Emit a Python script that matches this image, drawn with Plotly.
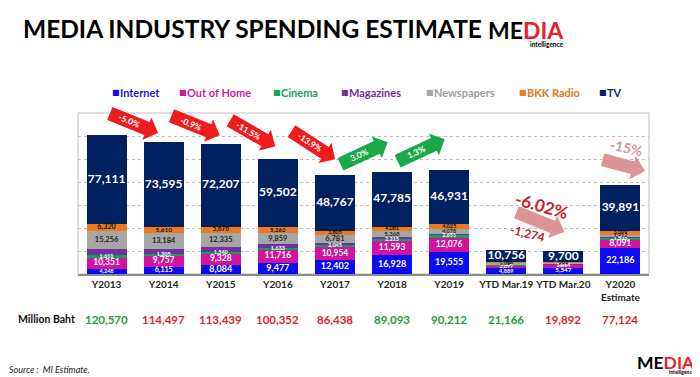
import plotly.graph_objects as go
import math

# ---------------- data ----------------
categories = ["Y2013", "Y2014", "Y2015", "Y2016", "Y2017", "Y2018", "Y2019",
              "YTD Mar.19", "YTD Mar.20", "Y2020 Estimate"]
tick_labels = ["Y2013", "Y2014", "Y2015", "Y2016", "Y2017", "Y2018", "Y2019",
               "YTD Mar.19", "YTD Mar.20", "Y2020<br>Estimate"]

internet   = [4248, 6115, 8084, 9477, 12402, 16928, 19555, 4889, 5547, 22186]
out_of_home = [10351, 9757, 9328, 11716, 10954, 11593, 12076, 2897, 2814, 8091]
cinema     = [1611, 1305, 1540, 1633, 2045, 2215, 2651, 563, 320, 1535]
magazines  = [5673, 4931, 4269, 2903, 1684, 1123, 896, 219, 130, 410]
newspapers = [15256, 13184, 12335, 9859, 6781, 5368, 4078, 1064, 774, 1912]
bkk_radio  = [6320, 5610, 5676, 5262, 3805, 4081, 4025, 778, 607, 3099]
tv         = [77111, 73595, 72207, 59502, 48767, 47785, 46931, 10756, 9700, 39891]
totals     = [120570, 114497, 113439, 100352, 86438, 89093, 90212, 21166, 19892, 77124]
total_up   = [True, False, False, False, False, True, True, True, False, False]

growth_labels = ["-5.0%", "-0.9%", "-11.5%", "-13.9%", "3.0%", "1.3%"]

# ---------------- style ----------------
FONT = "Lato, 'DejaVu Sans', sans-serif"
OFF = 8                      # page body margin of the browser
W, H = 700 - OFF, 377 - OFF  # figure size
# plot area in window pixels
PX0, PY0, PW, PH = 78, 113, 571, 161
ML, MT = PX0 - OFF, PY0 - OFF
MR = W - ML - PW
MB = H - MT - PH
YMAX = 140000
N = len(categories)

series = [
    ("Internet",    internet,    "#0c0cf0", "#1a1ad0", "white", 9.0),
    ("Out of Home", out_of_home, "#d3139d", "#d01c9c", "white", 8.5),
    ("Cinema",      cinema,      "#12a052", "#18a058", "white", 6.5),
    ("Magazines",   magazines,   "#7030a0", "#7030a0", None,    0),
    ("Newspapers",  newspapers,  "#a6a6a6", "#a0a0a0", "#262626", 7.5),
    ("BKK Radio",   bkk_radio,   "#ec7a22", "#e37526", "#111111", 7.5),
    ("TV",          tv,          "#002060", "#1f2a6e", "white", 12),
]

def px_x(i):
    return PX0 + (i + 0.5) * PW / N

def px_y(v):
    return PY0 + PH * (1 - v / YMAX)

def to_paper(px, py):
    return (px - PX0) / PW, (PY0 + PH - py) / PH

fig = go.Figure()

cum = [0] * N
for name, vals, color, tcolor, lcolor, fsize in series:
    fig.add_trace(go.Bar(x=categories, y=vals, name=name, marker_color=color,
                         marker_line_width=0, width=0.7, showlegend=False))
    mids = [c + v / 2 for c, v in zip(cum, vals)]
    if lcolor:
        sizes = []
        for v in vals:
            seg = v / YMAX * PH
            sizes.append(min(fsize, max(5.5, seg * 1.0)) if name != "TV" else fsize)
        fig.add_trace(go.Scatter(
            x=categories, y=mids, mode="text",
            text=[f"{v:,}" for v in vals],
            textfont=dict(family=FONT, size=sizes, color=lcolor, weight="bold"),
            showlegend=False, hoverinfo="skip", cliponaxis=False))
    cum = [c + v for c, v in zip(cum, vals)]

shapes = []
annotations = []

# plot border
shapes.append(dict(type="rect", xref="paper", yref="paper", x0=0, x1=1, y0=0, y1=1,
                   line=dict(color="#bfbfbf", width=1), layer="below"))

# block arrows
def arrow(cx, cy, L, t, hw, hl, ang, color):
    a = math.radians(ang)
    ca, sa = math.cos(a), math.sin(a)
    pts_local = [(-L / 2, -t / 2), (L / 2 - hl, -t / 2), (L / 2 - hl, -hw / 2),
                 (L / 2, 0), (L / 2 - hl, hw / 2), (L / 2 - hl, t / 2), (-L / 2, t / 2)]
    pts = []
    for lx, ly in pts_local:
        X = cx + lx * ca - ly * sa
        Y = cy + lx * sa + ly * ca
        pts.append(to_paper(X, Y))
    path = "M " + " L ".join(f"{x:.5f},{y:.5f}" for x, y in pts) + " Z"
    shapes.append(dict(type="path", xref="paper", yref="paper", path=path,
                       fillcolor=color, line=dict(width=0)))

def text_at(px, py, txt, size, color, ang=0, xanchor="center", family=FONT):
    xp, yp = to_paper(px, py)
    annotations.append(dict(xref="paper", yref="paper", x=xp, y=yp, text=txt,
                            showarrow=False, textangle=ang, xanchor=xanchor,
                            yanchor="middle", borderpad=0,
                            font=dict(family=family, size=size, color=color)))

# growth arrows (category position, value, angle, colour)
growth_arrows = [
    (0.48, 131000, 22, "#ee1c1c"),
    (1.56, 129200, 22, "#ee1c1c"),
    (2.56, 122400, 30, "#ee1c1c"),
    (3.62, 112000, 33, "#ee1c1c"),
    (4.51, 105000, -25, "#1aa84a"),
    (5.51, 107600, -25, "#1aa84a"),
]
for (ci, v, ang, col), lab in zip(growth_arrows, growth_labels):
    cx, cy = px_x(ci), px_y(v)
    arrow(cx, cy, 52, 14, 24, 12, ang, col)
    a = math.radians(ang)
    tx, ty = cx - 5 * math.cos(a), cy - 5 * math.sin(a)
    text_at(tx, ty, f"<b>{lab}</b>", 8.5, "white", ang)

# pink arrows
arrow(px_x(9.06), px_y(94500), 44, 13, 24, 13, 15, "#d99694")
arrow(px_x(7.60), px_y(45200), 52, 13, 24, 13, 22, "#d99694")

for ci, v, txt, size, col, ang in [
    (9.10, 110400, "-15%", 14, "#d99694", 12),
    (7.62, 60000, "-6.02%", 17, "#c0272d", 16),
    (7.38, 35600, "-1,274", 12, "#c0272d", 14),
]:
    text_at(px_x(ci), px_y(v), f"<b>{txt}</b>", size, col, ang)

# totals row
text_at(17, 319, "<b>Million Baht</b>", 10.5, "#111111", xanchor="left")
yrow = to_paper(0, 319)[1]
for cat, tot, up in zip(categories, totals, total_up):
    annotations.append(dict(xref="x", yref="paper", x=cat, y=yrow, yanchor="middle",
                            xanchor="center", showarrow=False, text=f"<b>{tot:,}</b>",
                            font=dict(family=FONT, size=11.5,
                                      color="#22a040" if up else "#e3202a")))

# legend (drawn as text)
legend_x = [112, 179, 273, 341, 426, 519, 599]
for (name, vals, color, tcolor, lcolor, fsize), lx in zip(series, legend_x):
    text_at(lx - 1, 92, "■", 8, color, xanchor="left", family="DejaVu Sans")
    text_at(lx + 7, 92, f"<b>{name}</b>", 11, tcolor, xanchor="left")

# title and logos
text_at(22, 29, "<b>MEDIA INDUSTRY SPENDING ESTIMATE</b>", 24.5, "#000000", xanchor="left")

def logo(xr, ycap, size, isize, yint):
    x1, y1 = to_paper(xr, ycap)
    annotations.append(dict(xref="paper", yref="paper", x=x1, y=y1, xanchor="right",
                            yanchor="middle", showarrow=False, borderpad=0,
                            text="<b>ME<span style='color:#e8202a'>DIA</span></b>",
                            font=dict(family=FONT, size=size, color="#000000")))
    x2, y2 = to_paper(xr, yint)
    annotations.append(dict(xref="paper", yref="paper", x=x2, y=y2, xanchor="right",
                            yanchor="middle", showarrow=False, text="<b>intelligence</b>",
                            borderpad=0,
                            font=dict(family=FONT, size=isize, color="#000000")))

logo(565, 30, 23, 6.5, 44)
logo(696, 362, 17.5, 5, 372)

text_at(8, 369, "<i>Source :  MI Estimate.</i>", 9, "#222222", xanchor="left")

fig.update_layout(
    width=W, height=H, margin=dict(l=ML, r=MR, t=MT, b=MB, autoexpand=False),
    barmode="stack", bargap=0.3,
    plot_bgcolor="white", paper_bgcolor="white",
    shapes=shapes, annotations=annotations, showlegend=False,
    font=dict(family=FONT),
)
fig.update_xaxes(type="category", tickvals=categories, ticktext=tick_labels,
                 tickangle=0, automargin=False,
                 showline=True, linecolor="#8c8c8c", linewidth=1.5, ticks="",
                 tickfont=dict(family=FONT, size=10, color="#262626", weight="bold"),
                 showgrid=False)
fig.update_yaxes(range=[0, YMAX], dtick=20000, showticklabels=False, showgrid=True,
                 automargin=False,
                 gridcolor="#bdbdbd", griddash="dot", gridwidth=1, zeroline=False)

fig.write_html("out.html")
